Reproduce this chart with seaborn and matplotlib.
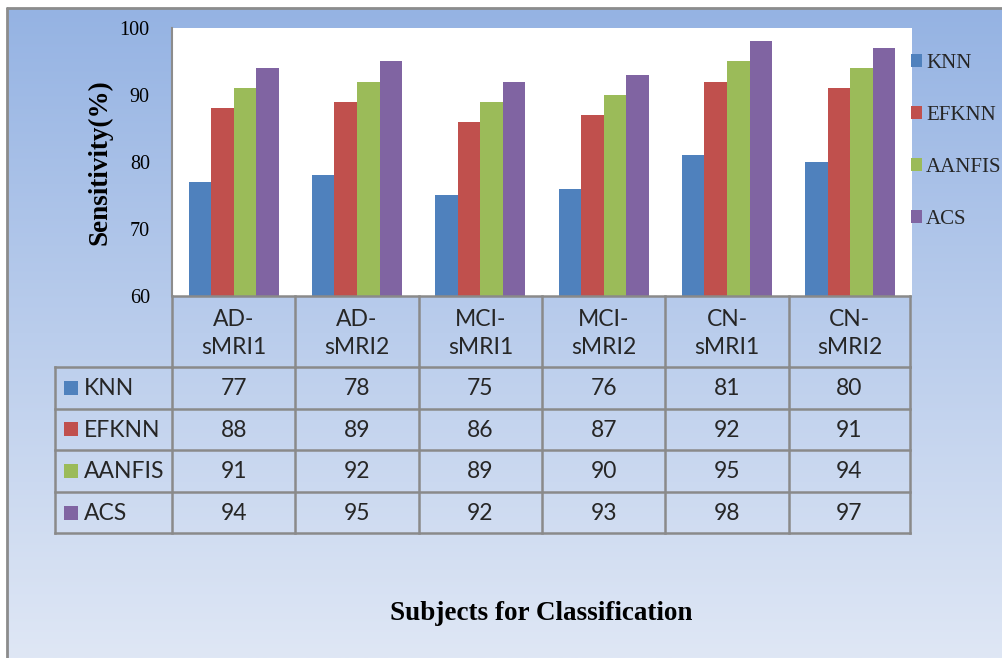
import numpy as np
import pandas as pd
import matplotlib
matplotlib.use("Agg")
import matplotlib.pyplot as plt
import matplotlib.colors as mcolors
from matplotlib.patches import Rectangle
import seaborn as sns

# ---- data ----
subjects = ["AD-\nsMRI1", "AD-\nsMRI2", "MCI-\nsMRI1", "MCI-\nsMRI2", "CN-\nsMRI1", "CN-\nsMRI2"]
methods = ["KNN", "EFKNN", "AANFIS", "ACS"]
knn = [77, 78, 75, 76, 81, 80]
efknn = [88, 89, 86, 87, 92, 91]
aanfis = [91, 92, 89, 90, 95, 94]
acs = [94, 95, 92, 93, 98, 97]
colors = ["#4F81BD", "#C0504D", "#9BBB59", "#8064A2"]
yticks = [60, 70, 80, 90, 100]

series = {"KNN": knn, "EFKNN": efknn, "AANFIS": aanfis, "ACS": acs}
df = pd.DataFrame(
    [(s, m, v) for m in methods for s, v in zip(subjects, series[m])],
    columns=["subject", "method", "value"],
)

sns.set_theme(style="white")
plt.rcParams["font.family"] = ["Liberation Serif", "DejaVu Serif"]
TABLE_FONT = ["Lato", "DejaVu Sans"]

W, H = 1003, 658
fig = plt.figure(figsize=(W / 100, H / 100), dpi=100)
fig.patch.set_facecolor("white")

# ---- gradient chart area with grey frame ----
bg = fig.add_axes([0, 0, 1, 1], zorder=0)
bg.set_xlim(0, W)
bg.set_ylim(H, 0)
bg.axis("off")
top = np.array(mcolors.to_rgb("#95b3e3"))
bot = np.array(mcolors.to_rgb("#dfe7f5"))
t = np.linspace(0, 1, 256)[:, None, None]
grad = top[None, None, :] + (bot - top)[None, None, :] * t
bg.imshow(grad, extent=(7, W, H, 8), aspect="auto", interpolation="bilinear")
bg.plot([7, 7], [H, 8], color="#8c8c8c", lw=2)
bg.plot([7, W], [8, 8], color="#8c8c8c", lw=2)

# ---- bar chart ----
ax_l, ax_r, ax_t, ax_b = 172, 912, 28, 296
ax = fig.add_axes([ax_l / W, 1 - ax_b / H, (ax_r - ax_l) / W, (ax_b - ax_t) / H], zorder=2)
ax.set_facecolor("white")
sns.barplot(data=df, x="subject", y="value", hue="method", hue_order=methods,
            palette=colors, saturation=1, width=0.73, linewidth=0, ax=ax)
ax.set_ylim(60, 100)
ax.set_yticks(yticks)
ax.set_yticklabels([str(v) for v in yticks], fontsize=14.5, color="black")
ax.tick_params(axis="y", length=0, pad=16)
ax.set_xticks([])
ax.set_xlabel("")
ax.set_ylabel("Sensitivity(%)", fontsize=19.5, fontweight="bold", color="black")
ax.yaxis.set_label_coords(-(ax_l - 113) / (ax_r - ax_l), 0.5)
for side in ["top", "right", "bottom"]:
    ax.spines[side].set_visible(False)
ax.spines["left"].set_color("#8c8c8c")
ax.spines["left"].set_linewidth(1.5)

handles, labels = ax.get_legend_handles_labels()
ax.get_legend().remove()
fig.legend(handles, labels, loc="upper left", bbox_to_anchor=(911 / W, 1 - 54 / H),
           frameon=False, fontsize=15, handlelength=0.53, handleheight=0.53,
           handletextpad=0.2, labelspacing=1.58, borderaxespad=0, borderpad=0)

# ---- data table under the axis ----
tab = fig.add_axes([0, 0, 1, 1], zorder=3)
tab.set_xlim(0, W)
tab.set_ylim(H, 0)
tab.axis("off")

x0, x1 = ax.get_xlim()
def to_px(xd):
    return ax_l + (xd - x0) / (x1 - x0) * (ax_r - ax_l)

col_edges = [to_px(i - 0.5) for i in range(len(subjects) + 1)]
col_edges[-1] = 910
row_left = 55
head_top, head_bot = ax_b, 367
row_h = 41.6
line_kw = dict(color="#8a8a8a", lw=1.8, solid_capstyle="projecting")

# header row
tab.plot([col_edges[0], col_edges[-1]], [head_top, head_top], **line_kw)
for xe in col_edges:
    tab.plot([xe, xe], [head_top, head_bot], **line_kw)
for i, s in enumerate(subjects):
    xc = (col_edges[i] + col_edges[i + 1]) / 2
    tab.text(xc, (head_top + head_bot) / 2 + 2, s, ha="center", va="center",
             fontsize=16.5, family=TABLE_FONT, linespacing=1.38)

# body rows
n_rows = len(methods)
body_bot = head_bot + n_rows * row_h
for r in range(n_rows + 1):
    y = head_bot + r * row_h
    tab.plot([row_left, col_edges[-1]], [y, y], **line_kw)
for xe in [row_left] + col_edges:
    tab.plot([xe, xe], [head_bot, body_bot], **line_kw)

for r, m in enumerate(methods):
    yc = head_bot + (r + 0.5) * row_h
    tab.add_patch(Rectangle((64, yc - 7), 14, 14, facecolor=colors[r], edgecolor="none"))
    tab.text(84, yc + 1, m, ha="left", va="center", fontsize=16.5, family=TABLE_FONT)
    for i, v in enumerate(series[m]):
        xc = (col_edges[i] + col_edges[i + 1]) / 2
        tab.text(xc, yc + 1, str(v), ha="center", va="center", fontsize=16.5, family=TABLE_FONT)

tab.text(541, 613, "Subjects for Classification", ha="center", va="center",
         fontsize=19.5, fontweight="bold", color="black")

fig.savefig("out.png", dpi=100)
